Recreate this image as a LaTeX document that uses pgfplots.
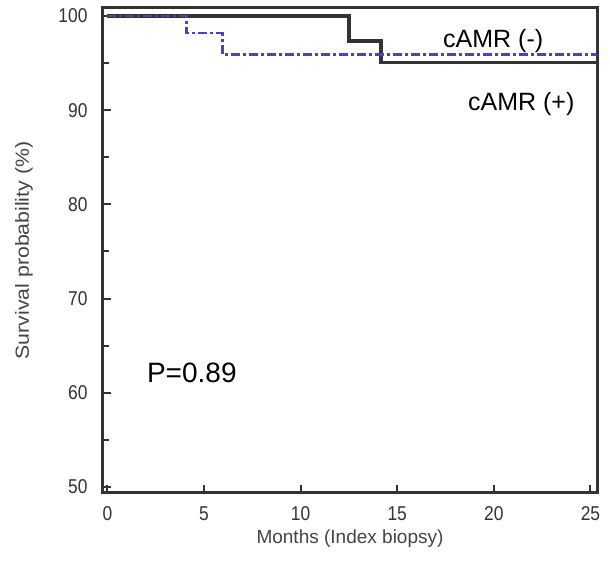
\documentclass[border=0pt]{standalone}
\usepackage{pgfplots}
\pgfplotsset{compat=1.18}
\usepackage{fontspec}
\setmainfont{Liberation Sans}
\newfontfamily\narrowfont[FakeStretch=0.87]{Liberation Sans}
\newfontfamily\widefont[FakeStretch=1.12]{Liberation Sans}
\definecolor{axgray}{HTML}{333333}
\definecolor{lblgray}{HTML}{444444}
\definecolor{kmblue}{HTML}{4545C0}
\definecolor{kmblack}{HTML}{333333}
\begin{document}
\begin{tikzpicture}
\begin{axis}[
  name=ax,
  scale only axis,
  width=494pt, height=485pt,
  xmin=-0.23, xmax=25.34,
  ymin=49.36, ymax=100.85,
  xtick={0,5,10,15,20,25},
  ytick={50,60,70,80,90,100},
  minor ytick={55,65,75,85,95},
  tick align=inside,
  xtick pos=bottom, ytick pos=left,
  major tick length=8pt,
  minor tick length=6pt,
  every tick/.style={axgray, line width=2pt},
  axis line style={axgray, line width=3pt},
  /pgf/number format/assume math mode=true,
  ticklabel style={font=\narrowfont\fontsize{20}{20}\selectfont, text=axgray},
  yticklabel style={xshift=-12pt},
  xticklabel style={yshift=-10pt},
  xlabel={Months (Index biopsy)},
  ylabel={Survival probability (\%)},
  xlabel style={yshift=-2pt, font=\fontsize{19}{19}\selectfont, text=lblgray},
  every axis y label/.style={at={(axis description cs:-0.16,0.5)}, rotate=90, anchor=center,
    font=\widefont\fontsize{19}{19}\selectfont, text=lblgray},
  clip=false,
]
\addplot[const plot, kmblack, line width=3.4pt] coordinates {
  (0,100) (12.5,97.35) (14.15,95.05) (25.34,95.05)
};
\addplot[const plot, kmblue, line width=2.8pt,
  dash pattern=on 9pt off 3pt on 3pt off 3pt] coordinates {
  (0,100) (4.1,98.2) (5.95,95.9) (25.34,95.9)
};
\node[anchor=base west, font=\fontsize{25}{25}\selectfont, inner sep=0pt] at (axis cs:17.37,96.7) {cAMR (-)};
\node[anchor=base west, font=\fontsize{25}{25}\selectfont, inner sep=0pt] at (axis cs:18.66,90.0) {cAMR (+)};
\node[anchor=base west, font=\fontsize{28}{28}\selectfont, inner sep=0pt] at (axis cs:2.04,61.04) {P=0.89};
\end{axis}
\pgfresetboundingbox
\path ([shift={(-103pt,-71pt)}]ax.south west) rectangle ([shift={(13pt,8pt)}]ax.north east);
\end{tikzpicture}
\end{document}
